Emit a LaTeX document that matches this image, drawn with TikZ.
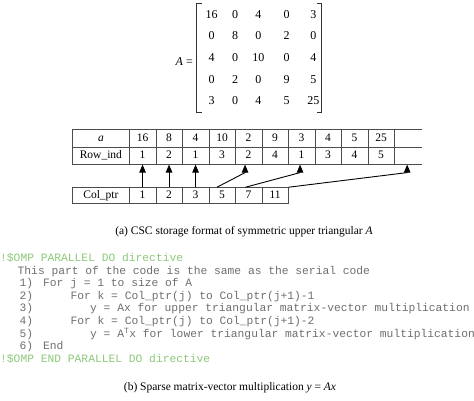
\documentclass[tikz,border=0pt]{standalone}
\usepackage{fontspec}
\setmainfont{Liberation Serif}
\newfontfamily\codefont{Liberation Mono}
\usepackage{tikz}
\usetikzlibrary{arrows.meta}
\usetikzlibrary{matrix}
\definecolor{ompgreen}{RGB}{140,200,120}
\definecolor{codegray}{RGB}{110,110,110}
\tikzset{cell/.style={draw=black!70, line width=0.6bp, minimum width=26.5bp,
    minimum height=16.6bp, inner sep=0pt, text height=7.5bp, text depth=2bp,
    font={\fontsize{11.5bp}{13bp}\selectfont}},
  head/.style={cell, minimum width=56.8bp},
  open/.style={cell, draw=none, minimum width=27.7bp},
  entry/.style={minimum width=12bp, minimum height=21.7bp, inner sep=0pt,
    text height=8bp, text depth=0pt, font={\fontsize{12bp}{14bp}\selectfont}},
  brk/.style={line width=0.9bp, black!80},
  arr/.style={-{Triangle[length=8bp,width=6.5bp]}, line width=0.9bp},
  code/.style={anchor=base west, inner sep=0pt, text=codegray,
    font={\codefont\fontsize{11.29bp}{12.6bp}\selectfont}},
  omp/.style={code, text=ompgreen},
  caption/.style={inner sep=0pt, font={\fontsize{11.5bp}{13bp}\selectfont}}}

\begin{document}
\begin{tikzpicture}[x=1bp,y=-1bp]
\useasboundingbox (0,0) rectangle (474,400);

    % the matrix A
    \node[entry, anchor=east] (lhs) at (193,61.7) {\textit{A} =};
    \matrix (A) [matrix of nodes, nodes={entry}, column sep=11.3bp, row sep=0pt, inner sep=0pt] at (262.5,57.5) {
        16 & 0 & 4  &[5.1bp] 0 &[3.3bp] 3  \\
        0  & 8 & 0  & 2 & 0  \\
        4  & 0 & 10 & 0 & 4  \\
        0  & 2 & 0  & 9 & 5  \\
        3  & 0 & 4  & 5 & 25 \\
    };
    \draw[brk] ([xshift=-4bp]A.north west) -- ([xshift=-9bp]A.north west) -- ([xshift=-9bp]A.south west) -- ([xshift=-4bp]A.south west);
    \draw[brk] ([xshift=-2.6bp]A.north east) -- ([xshift=2.4bp]A.north east) -- ([xshift=2.4bp]A.south east) -- ([xshift=-2.6bp]A.south east);

    % values and row indices
    \node[head, minimum height=18.4bp] (ah) at (100.9,138.5) {\textit{a}};
    \node[cell, minimum height=18.4bp] (a1) at (142.55,138.5) {16};
    \node[cell, minimum height=18.4bp] (a2) at (169.05,138.5) {8};
    \node[cell, minimum height=18.4bp] (a3) at (195.55,138.5) {4};
    \node[cell, minimum height=18.4bp] (a4) at (222.05,138.5) {10};
    \node[cell, minimum height=18.4bp] (a5) at (248.55,138.5) {2};
    \node[cell, minimum height=18.4bp] (a6) at (275.05,138.5) {9};
    \node[cell, minimum height=18.4bp] (a7) at (301.55,138.5) {3};
    \node[cell, minimum height=18.4bp] (a8) at (328.05,138.5) {4};
    \node[cell, minimum height=18.4bp] (a9) at (354.55,138.5) {5};
    \node[cell, minimum height=18.4bp] (a10) at (381.05,138.5) {25};
    \node[open, minimum height=18.4bp] (a11) at (408.15,138.5) {};

    \node[head] (rh) at (100.9,156) {Row\_ind};
    \node[cell] (r1) at (142.55,156) {1};
    \node[cell] (r2) at (169.05,156) {2};
    \node[cell] (r3) at (195.55,156) {1};
    \node[cell] (r4) at (222.05,156) {3};
    \node[cell] (r5) at (248.55,156) {2};
    \node[cell] (r6) at (275.05,156) {4};
    \node[cell] (r7) at (301.55,156) {1};
    \node[cell] (r8) at (328.05,156) {3};
    \node[cell] (r9) at (354.55,156) {4};
    \node[cell] (r10) at (381.05,156) {5};
    \node[open] (r11) at (408.15,156) {};
    \draw[black!70, line width=0.6bp] (a11.north west) -- (a11.north east);
    \draw[black!70, line width=0.6bp] (r11.north west) -- (r11.north east);
    \draw[black!70, line width=0.6bp] (r11.south west) -- (r11.south east);

    % column pointers
    \node[head, minimum height=16bp] (ph) at (100.9,195.5) {Col\_ptr};
    \node[cell, minimum height=16bp] (p1) at (142.55,195.5) {1};
    \node[cell, minimum height=16bp] (p2) at (169.05,195.5) {2};
    \node[cell, minimum height=16bp] (p3) at (195.55,195.5) {3};
    \node[cell, minimum height=16bp] (p4) at (222.05,195.5) {5};
    \node[cell, minimum height=16bp] (p5) at (248.55,195.5) {7};
    \node[cell, minimum height=16bp] (p6) at (275.05,195.5) {11};

    \draw[arr] (p1.north) -- (r1.south);
    \draw[arr] (p2.north) -- (r2.south);
    \draw[arr] (p3.north) -- (r3.south);
    \draw[arr] ([xshift=-5bp]p4.north) -- ([xshift=-3.5bp,yshift=-8bp]r5.south) -- ([xshift=-3.5bp]r5.south);
    \draw[arr] ([xshift=-3bp]p5.north) -- ([xshift=-1.5bp,yshift=-8bp]r7.south) -- ([xshift=-1.5bp]r7.south);
    \draw[arr] (p6.north east) -- ([xshift=-1bp,yshift=-8bp]r11.south) -- ([xshift=-1bp]r11.south);

    \node[caption] (capa) at (244,231.7) {(a) CSC storage format of symmetric upper triangular \textit{A}};

    % the code
    \node[omp] (omp1) at (0,261.5) {!\$OMP PARALLEL DO directive};
    \node[code] (serial) at (17.5,274.1) {This part of the code is the same as the serial code};
    \node[code] (n1) at (19.5,286.7) {1)};
    \node[code] (s1) at (43,286.7) {For j = 1 to size of A};
    \node[code] (n2) at (19.5,299.3) {2)};
    \node[code] (s2) at (70.4,299.3) {For k = Col\_ptr(j) to Col\_ptr(j+1)-1};
    \node[code] (n3) at (19.5,311.9) {3)};
    \node[code] (s3) at (90,311.9) {y = Ax for upper triangular matrix-vector multiplication};
    \node[code] (n4) at (19.5,324.5) {4)};
    \node[code] (s4) at (70.4,324.5) {For k = Col\_ptr(j) to Col\_ptr(j+1)-2};
    \node[code] (n5) at (19.5,337.1) {5)};
    \node[code] (s5) at (90,337.1) {y = A\textsuperscript{T}x for lower triangular matrix-vector multiplication};
    \node[code] (n6) at (19.5,349.7) {6)};
    \node[code] (s6) at (43,349.7) {End};
    \node[omp] (omp2) at (0,362.3) {!\$OMP END PARALLEL DO directive};

    \node[caption] (capb) at (230,387.7) {(b) Sparse matrix-vector multiplication \textit{y} = \textit{Ax}};

\end{tikzpicture}
\end{document}
